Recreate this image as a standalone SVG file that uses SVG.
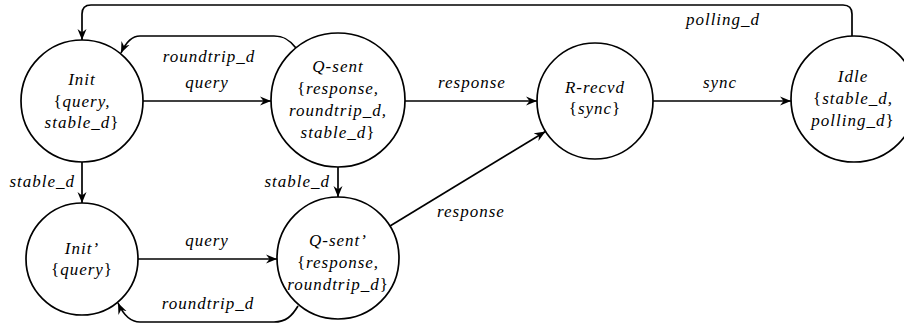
<svg xmlns="http://www.w3.org/2000/svg" width="904" height="324" viewBox="0 0 904 324">
<style>
text{font-style:italic;font-size:17px;letter-spacing:1px;fill:#000}
.n{text-anchor:middle}
.u{font-style:normal}
circle{fill:#fff;stroke:#000;stroke-width:1.7}
.e{fill:none;stroke:#000;stroke-width:1.7}
</style>
<defs>
<marker id="ah" markerUnits="userSpaceOnUse" markerWidth="12" markerHeight="10" refX="11" refY="5" orient="auto">
<path d="M0,0.5 L11,5 L0,9.5 L3.5,5 z" fill="#000"/>
</marker>
</defs>
<g font-family="Liberation Serif, Times New Roman, DejaVu Serif, serif">
<g id="connectors">
<path class="e" d="M143,101 L271,101" marker-end="url(#ah)"/>
<path class="e" d="M405,101 L537,101" marker-end="url(#ah)"/>
<path class="e" d="M653,101 L791,101" marker-end="url(#ah)"/>
<path class="e" d="M82,162 L82,203" marker-end="url(#ah)"/>
<path class="e" d="M338,167 L338,197" marker-end="url(#ah)"/>
<path class="e" d="M138,259 L277,259" marker-end="url(#ah)"/>
<path class="e" d="M390,226 L545.5,131.5" marker-end="url(#ah)"/>
<path class="e" d="M852,36 L852,14 Q852,5 843,5 L91,5 Q82,5 82,14 L82,40" marker-end="url(#ah)"/>
<path class="e" d="M296,48 C290,40 284,36 274,36 L140,36 C132,36 126,42 121,53" marker-end="url(#ah)"/>
<path class="e" d="M298,306 C292,316 286,322 274,322 L140,322 C130,322 123,314 118,303" marker-end="url(#ah)"/>
<text class="n" x="209" y="62">roundtrip_d</text>
<text class="n" x="207" y="88">query</text>
<text class="n" x="472" y="88">response</text>
<text class="n" x="720" y="88">sync</text>
<text class="n" x="723" y="25">polling_d</text>
<text x="75" y="187" text-anchor="end">stable_d</text>
<text x="330" y="187" text-anchor="end">stable_d</text>
<text class="n" x="207" y="246">query</text>
<text class="n" x="471" y="217">response</text>
<text class="n" x="208" y="309">roundtrip_d</text>
</g>
<g id="init">
<circle cx="82" cy="101" r="61"/>
<text class="n" x="82" y="85">Init</text>
<text class="n" x="82" y="107"><tspan class="u">{</tspan>query,</text>
<text class="n" x="82" y="128">stable_d<tspan class="u">}</tspan></text>
</g>
<g id="qsent">
<circle cx="338" cy="100" r="67"/>
<text class="n" x="338" y="72">Q-sent</text>
<text class="n" x="338" y="94"><tspan class="u">{</tspan>response,</text>
<text class="n" x="338" y="116">roundtrip_d,</text>
<text class="n" x="338" y="138">stable_d<tspan class="u">}</tspan></text>
</g>
<g id="rrecvd">
<circle cx="595" cy="101" r="58"/>
<text class="n" x="595" y="93">R-recvd</text>
<text class="n" x="595" y="114"><tspan class="u">{</tspan>sync<tspan class="u">}</tspan></text>
</g>
<g id="idle">
<circle cx="854" cy="99" r="63"/>
<text class="n" x="853" y="82">Idle</text>
<text class="n" x="853" y="104"><tspan class="u">{</tspan>stable_d,</text>
<text class="n" x="853" y="126">polling_d<tspan class="u">}</tspan></text>
</g>
<g id="initp">
<circle cx="82" cy="259" r="56"/>
<text class="n" x="82" y="254">Init’</text>
<text class="n" x="82" y="275"><tspan class="u">{</tspan>query<tspan class="u">}</tspan></text>
</g>
<g id="qsentp">
<circle cx="338" cy="258" r="61"/>
<text class="n" x="338" y="246">Q-sent’</text>
<text class="n" x="338" y="268"><tspan class="u">{</tspan>response,</text>
<text class="n" x="338" y="290">roundtrip_d<tspan class="u">}</tspan></text>
</g>
</g>
</svg>
